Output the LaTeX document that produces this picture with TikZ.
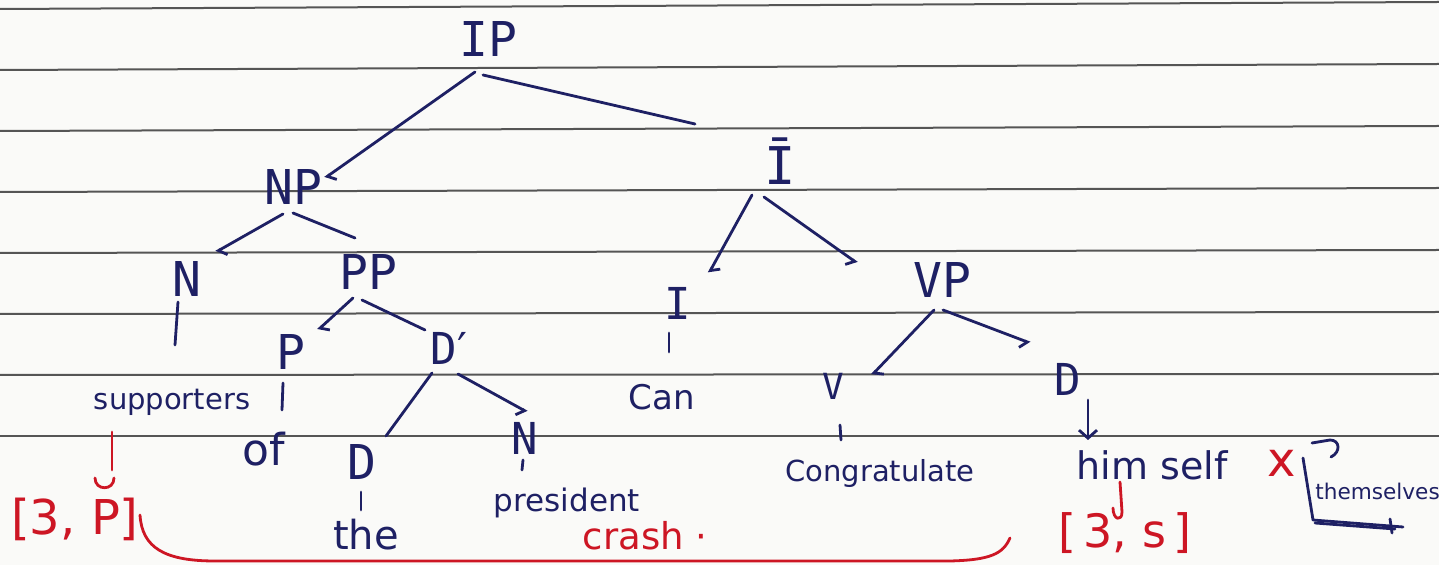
\documentclass[tikz,border=0pt]{standalone}
\usepackage{fontspec}
\setmainfont{DejaVu Sans}
\newfontfamily\labelfont{DejaVu Sans Mono}
\usetikzlibrary{arrows.meta,calc}
\definecolor{pen}{RGB}{30,32,100}
\definecolor{redpen}{RGB}{205,22,36}
\definecolor{rule}{RGB}{85,85,85}
\definecolor{paper}{RGB}{250,250,248}

\begin{document}
\begin{tikzpicture}[x=0.5pt,y=-0.5pt,
  lbl/.style={anchor=base,inner sep=0pt,text=pen,font=\labelfont\fontsize{#1}{#1}\selectfont},
  lbl/.default=24,
  wrd/.style={anchor=base,inner sep=0pt,text=pen,font=\fontsize{#1}{#1}\selectfont},
  rednote/.style={anchor=base,inner sep=0pt,text=redpen,font=\fontsize{#1}{#1}\selectfont},
  branch/.style={draw=pen,line width=1.4pt,line cap=round,line join=round},
  hookL/.style={branch,-{Straight Barb[left,length=3pt,width=8pt]}},
  hookR/.style={branch,-{Straight Barb[right,length=3pt,width=8pt]}},
  downarrow/.style={branch,-{Straight Barb[length=4pt,width=9pt]}},
  redline/.style={draw=redpen,line width=1.4pt,line cap=round,line join=round},
  ruling/.style={draw=rule,line width=1pt}]

% paper and ruled lines
\fill[paper] (0,0) rectangle (1439,565);
\useasboundingbox (0,0) rectangle (1439,565);
\clip (0,0) rectangle (1439,565);
\foreach \i in {0,...,7} \draw[ruling] (0,{9+61*\i}) -- (1439,{2+62*\i});

% category labels
\node[lbl] (IP) at (488,57) {IP};
\node[lbl] (NP) at (293,205) {NP};
\node[lbl=26] (Ib) at (780,185) {Ī};
\node[lbl] (N1) at (187,297) {N};
\node[lbl] (PP) at (368,290) {PP};
\node[lbl] (P) at (291,370) {P};
\node[lbl=22] (Db) at (449,365) {D{\rmfamily ′}};
\node[lbl] (D1) at (362,480) {D};
\node[lbl=22] (N2) at (525,455) {N};
\node[lbl=22] (I) at (678,320) {I};
\node[lbl] (VP) at (942,298) {VP};
\node[lbl=18] (V) at (833,400) {V};
\node[lbl=22] (D2) at (1068,396) {D};

% words
\node[wrd=14.5] (sup) at (172,410) {supporters};
\node[wrd=22] (of) at (264,466) {of};
\node[wrd=20] (the) at (366,550) {the};
\node[wrd=15.5] (pres) at (567,512) {president};
\node[wrd=17] (can) at (662,410) {Can};
\node[wrd=14.5] (cong) at (880,482) {Congratulate};
\node[wrd=19] (him) at (1152,480) {him self};
\node[wrd=10.8,anchor=base west] (them) at (1315,500) {themselves};

% red annotations
\node[rednote=24] (cross) at (1282,477) {x};
\node[rednote=24] (f3p) at (75,535) {[3, P]};
\node[rednote=23] (f3s) at (1125,548) {[\,3, s\,]};
\node[rednote=18.5] (crash) at (645,550) {crash ·};

% tree branches
\draw[hookL] ($(IP.base)+(-13,15)$) -- ($(NP.base)+(32,-27)$);
\draw[branch] ($(IP.base)+(-5,18)$) -- ($(Ib.base)+(-85,-61)$);
\draw[hookL] ($(NP.base)+(-10,9)$) -- ($(N1.base)+(29,-45)$);
\draw[branch] ($(NP.base)+(0,8)$) -- ($(PP.base)+(-13,-52)$);
\draw[hookL] ($(PP.base)+(-15,8)$) -- ($(P.base)+(27,-40)$);
\draw[branch] ($(PP.base)+(-6,10)$) -- ($(Db.base)+(-24,-35)$);
\draw[branch] ($(Db.base)+(-17,8)$) -- ($(D1.base)+(24,-44)$);
\draw[hookR] ($(Db.base)+(9,9)$) -- ($(N2.base)+(2,-43)$);
\draw[hookL] ($(Ib.base)+(-28,10)$) -- ($(I.base)+(31,-47)$);
\draw[hookR] ($(Ib.base)+(-16,12)$) -- ($(VP.base)+(-85,-35)$);
\draw[hookL] ($(VP.base)+(-8,12)$) -- ($(V.base)+(39,-25)$);
\draw[hookR] ($(VP.base)+(1,12)$) -- ($(D2.base)+(-38,-53)$);
\draw[downarrow] ($(D2.base)+(20,4)$) -- ($(him.base)+(-64,-40)$);

% lexical links
\draw[branch] ($(N1.base)+(-9,5)$) -- ($(sup.base)+(3,-65)$);
\draw[branch] ($(P.base)+(-8,13)$) -- ($(of.base)+(18,-56)$);
\draw[branch] ($(D1.base)+(-1,12)$) -- ($(the.base)+(-5,-40)$);
\draw[branch] ($(N2.base)+(-2,5)$) -- ($(pres.base)+(-45,-42)$);
\draw[branch] ($(I.base)+(-9,13)$) -- ($(can.base)+(7,-58)$);
\draw[branch] ($(V.base)+(7,25)$) -- ($(cong.base)+(-39,-42)$);

% themselves: bracket and arrow
\draw[branch] ($(them.base west)+(-12,-42)$) -- ($(them.base west)+(-2,20)$) -- ($(them.base west)+(88,27)$);
\draw[branch] ($(them.base west)+(0,23)$) -- ($(them.base west)+(80,29)$);
\draw[branch] ($(them.base west)+(75,19)$) -- ($(them.base west)+(77,33)$);
\draw[branch] ($(them.base west)+(-3,-57)$) -- ($(them.base west)+(15,-60)$)
  .. controls ($(them.base west)+(25,-60)$) and ($(them.base west)+(26,-48)$) .. ($(them.base west)+(16,-43)$);

% agreement features
\draw[redline] ($(sup.base)+(-60,22)$) -- ($(f3p.base)+(37,-65)$);
\draw[redline] ($(f3p.base)+(20,-57)$) .. controls ($(f3p.base)+(20,-44)$) and ($(f3p.base)+(39,-44)$) .. ($(f3p.base)+(39,-57)$);
\draw[redline] ($(him.base)+(-32,2)$) -- ($(f3s.base)+(-3,-36)$)
  .. controls ($(f3s.base)+(-3,-26)$) and ($(f3s.base)+(-12,-28)$) .. ($(f3s.base)+(-12,-40)$);
\draw[redline] ($(f3p.base)+(65,-20)$) .. controls ($(f3p.base)+(67,13)$) and ($(f3p.base)+(90,26)$) .. ($(crash.base)+(-430,11)$)
  -- ($(crash.base)+(305,11)$) .. controls ($(crash.base)+(345,10)$) and ($(crash.base)+(358,4)$) .. ($(f3s.base)+(-115,-10)$);
\end{tikzpicture}
\end{document}
